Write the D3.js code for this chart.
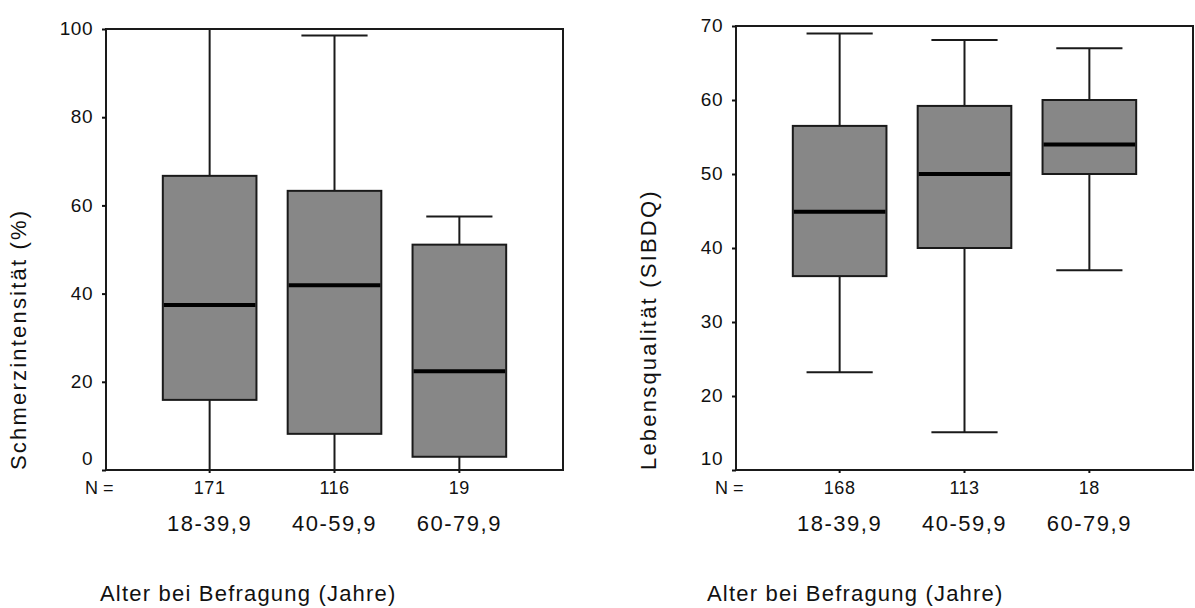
<!DOCTYPE html>
<html>
<head>
<meta charset="utf-8">
<script src="https://cdn.jsdelivr.net/npm/d3@7"></script>
<style>
  body { margin: 0; background: #fff; }
  svg { display: block; }
  text { font-family: "Liberation Sans", Arial, sans-serif; fill: #111; }
</style>
</head>
<body>
<svg id="chart" width="1195" height="608"></svg>
<script>
// age groups shared by both panels
const groups = ["18-39,9", "40-59,9", "60-79,9"];

// left panel: pain intensity (%)
const painN = [171, 116, 19];
const painLow = [0, 0, 0];
const painQ1 = [15.9, 8.2, 3.0];
const painMedian = [37.4, 41.9, 22.4];
const painQ3 = [66.7, 63.3, 51.1];
const painHigh = [100, 98.5, 57.5];
const painTicks = [0, 20, 40, 60, 80, 100];

// right panel: quality of life (SIBDQ)
const qolN = [168, 113, 18];
const qolLow = [23.2, 15.1, 37.0];
const qolQ1 = [36.2, 40.0, 50.0];
const qolMedian = [44.9, 50.0, 54.0];
const qolQ3 = [56.5, 59.2, 60.0];
const qolHigh = [69.0, 68.1, 67.0];
const qolTicks = [10, 20, 30, 40, 50, 60, 70];

const svg = d3.select("#chart");

function drawPanel(opts) {
    const { left, right, top, bottom, domain, ticks, n, low, q1, med, q3, high, yTitle, xTitleX } = opts;

    const x = d3.scaleBand()
        .domain(groups)
        .range([left, right])
        .paddingInner(0)
        .paddingOuter(0.33);

    const y = d3.scaleLinear()
        .domain(domain)
        .range([bottom, top]);

    const g = svg.append("g");

    // frame
    g.append("rect")
        .attr("x", left)
        .attr("y", top)
        .attr("width", right - left)
        .attr("height", bottom - top)
        .attr("fill", "none")
        .attr("stroke", "#1a1a1a")
        .attr("stroke-width", 2);

    // y axis ticks + labels
    const yAxis = d3.axisLeft(y)
        .tickValues(ticks)
        .tickSize(4)
        .tickPadding(9);
    const ya = g.append("g")
        .attr("transform", `translate(${left},0)`)
        .call(yAxis);
    ya.select(".domain").remove();
    ya.selectAll(".tick line").attr("stroke", "#111").attr("stroke-width", 2);
    ya.selectAll(".tick text")
        .style("font-size", "19px")
        .style("letter-spacing", "0.5px")
        .attr("fill", "#111")
        .attr("dy", d => d === domain[0] ? "-0.3em" : "0.3em");

    // small ticks under each box on the bottom edge
    g.selectAll(".xtick")
        .data(groups)
        .enter()
        .append("line")
        .attr("x1", d => x(d) + x.bandwidth() / 2)
        .attr("x2", d => x(d) + x.bandwidth() / 2)
        .attr("y1", bottom)
        .attr("y2", bottom + 3)
        .attr("stroke", "#111")
        .attr("stroke-width", 2);

    const boxW = x.bandwidth() * 0.75;
    const capW = x.bandwidth() * 0.53;
    const cx = i => x(groups[i]) + x.bandwidth() / 2;

    groups.forEach(function(grp, i) {
        const c = cx(i);
        // whiskers
        g.append("line")
            .attr("x1", c).attr("x2", c)
            .attr("y1", y(high[i])).attr("y2", y(q3[i]))
            .attr("stroke", "#1a1a1a").attr("stroke-width", 2);
        g.append("line")
            .attr("x1", c).attr("x2", c)
            .attr("y1", y(q1[i])).attr("y2", y(low[i]))
            .attr("stroke", "#1a1a1a").attr("stroke-width", 2);
        // caps
        [high[i], low[i]].forEach(function(v) {
            g.append("line")
                .attr("x1", c - capW / 2).attr("x2", c + capW / 2)
                .attr("y1", y(v)).attr("y2", y(v))
                .attr("stroke", "#1a1a1a").attr("stroke-width", 2);
        });
        // box
        g.append("rect")
            .attr("x", c - boxW / 2)
            .attr("y", y(q3[i]))
            .attr("width", boxW)
            .attr("height", y(q1[i]) - y(q3[i]))
            .attr("fill", "#878787")
            .attr("stroke", "#1a1a1a")
            .attr("stroke-width", 2);
        // median
        g.append("line")
            .attr("x1", c - boxW / 2 + 1).attr("x2", c + boxW / 2 - 1)
            .attr("y1", y(med[i])).attr("y2", y(med[i]))
            .attr("stroke", "#000").attr("stroke-width", 4);
    });

    // N row
    g.append("text")
        .attr("x", left - 21)
        .attr("y", bottom + 24)
        .style("font-size", "18px")
        .text("N =");
    g.selectAll(".nlab")
        .data(n)
        .enter()
        .append("text")
        .attr("x", (d, i) => cx(i))
        .attr("y", bottom + 24)
        .attr("text-anchor", "middle")
        .style("font-size", "18px")
        .style("letter-spacing", "0.5px")
        .text(d => d);

    // category labels
    g.selectAll(".cat")
        .data(groups)
        .enter()
        .append("text")
        .attr("x", d => x(d) + x.bandwidth() / 2)
        .attr("y", bottom + 61)
        .attr("text-anchor", "middle")
        .style("font-size", "22px")
        .style("letter-spacing", "1.5px")
        .text(d => d);

    // x title
    g.append("text")
        .attr("x", xTitleX)
        .attr("y", 601)
        .style("font-size", "22px")
        .style("letter-spacing", "1.2px")
        .text("Alter bei Befragung (Jahre)");

    // y title
    g.append("text")
        .attr("transform", `translate(${left - 80},${bottom}) rotate(-90)`)
        .style("font-size", "22px")
        .style("letter-spacing", "2.2px")
        .text(yTitle);
}

drawPanel({
    left: 106, right: 563, top: 29, bottom: 470,
    domain: [0, 100], ticks: painTicks, n: painN,
    low: painLow, q1: painQ1, med: painMedian, q3: painQ3, high: painHigh,
    yTitle: "Schmerzintensität (%)", xTitleX: 100
});

drawPanel({
    left: 736, right: 1193, top: 26, bottom: 470,
    domain: [10, 70], ticks: qolTicks, n: qolN,
    low: qolLow, q1: qolQ1, med: qolMedian, q3: qolQ3, high: qolHigh,
    yTitle: "Lebensqualität (SIBDQ)", xTitleX: 707
});
</script>
</body>
</html>
